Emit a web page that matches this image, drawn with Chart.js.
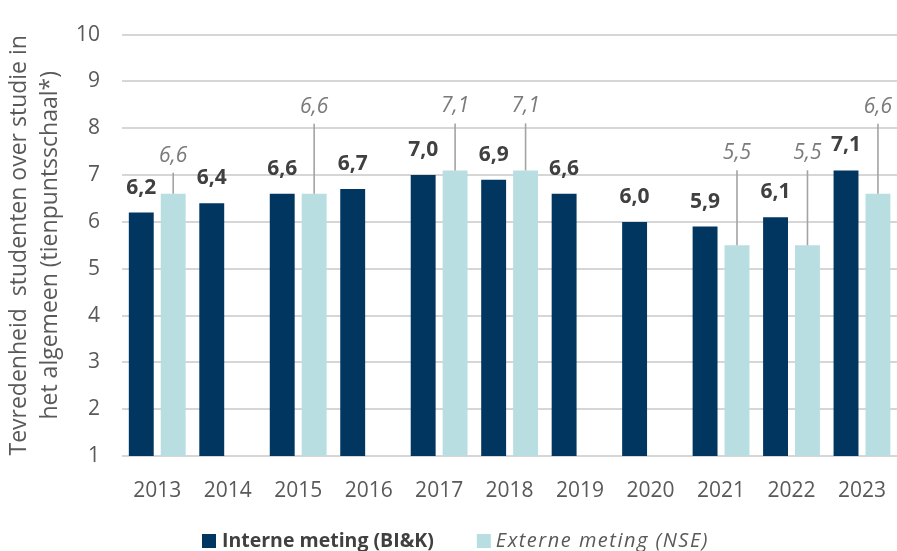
<!DOCTYPE html>
<html lang="nl">
<head>
    <meta charset="utf-8">
    <title>Tevredenheid studenten</title>
    <style>
        body{margin:0;overflow:hidden;background:#fff;}
        .chart-box{width:900px;height:551px;}
    </style>
    <script src="https://cdn.jsdelivr.net/npm/chart.js@4"></script>
</head>
<body>
    <div class="chart-box"><canvas id="tevredenChart" width="900" height="551"></canvas></div>
    <script>
        const years = ['2013','2014','2015','2016','2017','2018','2019','2020','2021','2022','2023'];
        const interneMeting = [6.2, 6.4, 6.6, 6.7, 7.0, 6.9, 6.6, 6.0, 5.9, 6.1, 7.1];
        const externeMeting = [6.6, null, 6.6, null, 7.1, 7.1, null, null, 5.5, 5.5, 6.6];
        const yTicks = [1,2,3,4,5,6,7,8,9,10];
        const seriesNames = ['Interne meting (BI&K)', 'Externe meting (NSE)'];

        const FONT = "'Open Sans', 'Noto Sans', sans-serif";
        const DARK = '#00365f';
        const LIGHT = '#b8dee2';

        function fmt(v) { return v.toFixed(1).replace('.', ','); }

        // labels above the bars, the NSE ones lifted with a thin leader line
        const barLabels = {
            id: 'barLabels',
            afterDatasetsDraw(chart, args, opts) {
                const ctx = chart.ctx;
                ctx.save();
                ctx.textAlign = 'center';
                ctx.textBaseline = 'middle';
                chart.getDatasetMeta(0).data.forEach((bar, i) => {
                    const v = interneMeting[i];
                    if (v == null) return;
                    ctx.font = 'bold 21px ' + FONT;
                    ctx.fillStyle = '#404040';
                    ctx.fillText(fmt(v), bar.x, bar.y - 25);
                });
                chart.getDatasetMeta(1).data.forEach((bar, i) => {
                    const v = externeMeting[i];
                    if (v == null) return;
                    const lift = opts.lift[i];
                    ctx.strokeStyle = '#a3a3a3';
                    ctx.lineWidth = 1.6;
                    ctx.beginPath();
                    ctx.moveTo(bar.x, bar.y - lift + 17);
                    ctx.lineTo(bar.x, bar.y);
                    ctx.stroke();
                    ctx.font = 'italic 21px ' + FONT;
                    ctx.fillStyle = '#7a7a7a';
                    ctx.fillText(fmt(v), bar.x, bar.y - lift);
                });
                ctx.restore();
            }
        };

        // legend: one bold, one italic entry, so drawn by hand
        const mixedLegend = {
            id: 'mixedLegend',
            afterDraw(chart) {
                const ctx = chart.ctx;
                const y = 541;
                ctx.save();
                ctx.textBaseline = 'middle';
                ctx.textAlign = 'left';
                let x = 202;
                ctx.fillStyle = DARK;
                ctx.fillRect(x, y - 7, 14, 14);
                ctx.font = 'bold 19.5px ' + FONT;
                ctx.fillStyle = '#404040';
                ctx.fillText(seriesNames[0], x + 20, y);
                x += 20 + ctx.measureText(seriesNames[0]).width + 43;
                ctx.fillStyle = LIGHT;
                ctx.fillRect(x, y - 7, 14, 14);
                ctx.font = 'italic 20px ' + FONT;
                ctx.letterSpacing = '1.5px';
                ctx.fillStyle = '#595959';
                ctx.fillText(seriesNames[1], x + 19, y);
                ctx.restore();
            }
        };

        new Chart(document.getElementById('tevredenChart').getContext('2d'), {
            type: 'bar',
            data: {
                labels: years,
                datasets: [
                    {
                        label: seriesNames[0],
                        data: interneMeting,
                        backgroundColor: DARK,
                        categoryPercentage: 0.906,
                        barPercentage: 0.78
                    },
                    {
                        label: seriesNames[1],
                        data: externeMeting,
                        backgroundColor: LIGHT,
                        categoryPercentage: 0.906,
                        barPercentage: 0.78
                    }
                ]
            },
            options: {
                responsive: false,
                animation: false,
                layout: {padding: {top: 26, right: 0, bottom: 0, left: 0}},
                plugins: {
                    legend: {display: false},
                    tooltip: {enabled: false},
                    barLabels: {lift: [38, 0, 87, 0, 64, 64, 0, 0, 92, 92, 87]}
                },
                scales: {
                    x: {
                        grid: {display: false},
                        border: {display: false},
                        ticks: {color: '#595959', font: {family: FONT, size: 21}, padding: 14},
                        afterFit(scale) { scale.height = 95; }
                    },
                    y: {
                        min: 1,
                        max: 10,
                        afterBuildTicks(scale) { scale.ticks = yTicks.map(v => ({value: v})); },
                        grid: {color: '#d6d6d6', lineWidth: 2, drawTicks: false},
                        border: {display: false},
                        ticks: {color: '#595959', font: {family: FONT, size: 21}, padding: 22},
                        title: {
                            display: true,
                            text: ['Tevredenheid  studenten over studie in', 'het algemeen (tienpuntsschaal*)'],
                            color: '#595959',
                            font: {family: FONT, size: 23, lineHeight: 1.35},
                            padding: {top: 4, bottom: 0}
                        },
                        afterFit(scale) { scale.width = 122; }
                    }
                }
            },
            plugins: [barLabels, mixedLegend]
        });
    </script>
</body>
</html>
